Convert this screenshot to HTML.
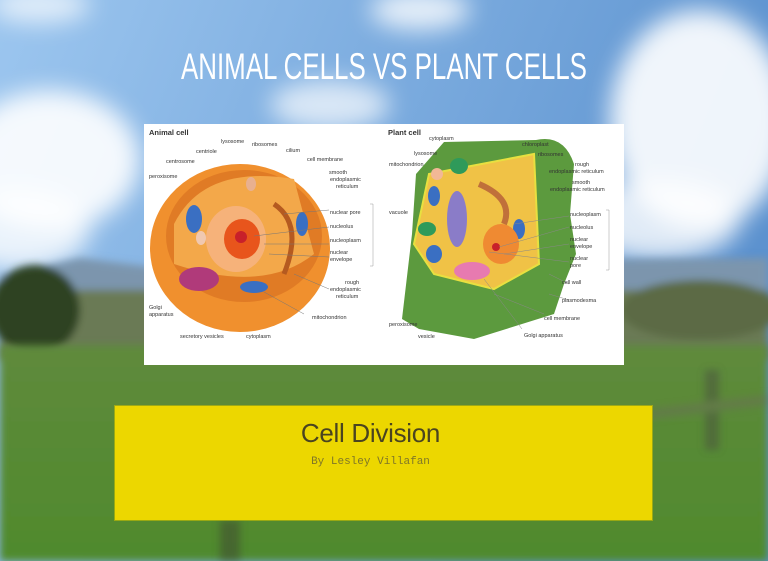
<!DOCTYPE html>
<html><head><meta charset="utf-8"><style>
html,body{margin:0;padding:0;width:768px;height:561px;overflow:hidden;}
body{position:relative;font-family:"Liberation Sans",sans-serif;}
.bg{position:absolute;left:0;top:0;}
.title{position:absolute;left:0;width:768px;top:46px;text-align:center;color:#fff;font-family:"Liberation Sans",sans-serif;font-weight:normal;font-size:37px;}
.title span{display:inline-block;transform:scaleX(0.7);}
.pic{position:absolute;left:144px;top:124px;width:480px;height:241px;background:#fff;}
.box{position:absolute;left:115px;top:406px;width:537px;height:114px;background:#ecd700;box-shadow:0 0 0 1px rgba(200,190,0,.6);}
.h{position:absolute;left:-13px;width:537px;top:12px;text-align:center;font-size:26px;color:#4a4420;font-family:"Liberation Sans",sans-serif;letter-spacing:-0.3px;}
.s{position:absolute;left:-13px;width:537px;top:50px;text-align:center;font-size:11px;color:#7f7628;font-family:"Liberation Mono",monospace;}
</style></head><body>
<svg class="bg" width="768" height="561">
<defs>
<linearGradient id="sky" x1="0" y1="0" x2="1" y2="0.3"><stop offset="0" stop-color="#9cc6ef"/><stop offset="1" stop-color="#5c92cf"/></linearGradient>
<linearGradient id="gr" x1="0" y1="0" x2="0" y2="1"><stop offset="0" stop-color="#5f8a3c"/><stop offset="1" stop-color="#4f8a2c"/></linearGradient>
<filter id="b" x="-20%" y="-20%" width="140%" height="140%"><feGaussianBlur stdDeviation="12"/></filter>
<filter id="b2"><feGaussianBlur stdDeviation="4"/></filter>
</defs>
<rect width="768" height="561" fill="url(#sky)"/>
<g filter="url(#b)" fill="#fff">
<ellipse cx="50" cy="160" rx="90" ry="70" opacity=".9"/>
<ellipse cx="20" cy="230" rx="70" ry="40" opacity=".8"/>
<ellipse cx="700" cy="120" rx="90" ry="110" opacity=".9"/>
<ellipse cx="660" cy="220" rx="80" ry="40" opacity=".8"/>
<ellipse cx="330" cy="105" rx="60" ry="25" opacity=".7"/>
<ellipse cx="420" cy="10" rx="50" ry="20" opacity=".8"/>
<ellipse cx="40" cy="5" rx="50" ry="18" opacity=".7"/>
</g>
<g filter="url(#b2)">
<path d="M0 275 L80 258 L160 268 L260 262 L768 258 L768 300 L0 300Z" fill="#7c95ad"/>
<rect x="0" y="290" width="768" height="70" fill="#6b7a55"/>
<ellipse cx="35" cy="310" rx="45" ry="45" fill="#2f4223"/>
<ellipse cx="700" cy="310" rx="80" ry="30" fill="#5b6a45"/>
</g>
<rect x="0" y="345" width="768" height="216" fill="url(#gr)" filter="url(#b2)"/>
<g filter="url(#b2)" opacity=".5">
<rect x="705" y="370" width="14" height="80" fill="#4a5040"/>
<path d="M640 410 L768 395 L768 405 L640 420Z" fill="#6a6e58"/>
<rect x="220" y="520" width="20" height="41" fill="#3c4432"/>
</g>
</svg>
<div class="title"><span>ANIMAL CELLS VS PLANT CELLS</span></div>
<div class="pic">
<svg width="480" height="241" font-family="Liberation Sans,sans-serif" font-size="5.5" fill="#333">
<text x="5" y="11" font-size="7.5" font-weight="bold">Animal cell</text>
<text x="244" y="11" font-size="7.5" font-weight="bold">Plant cell</text>
<ellipse cx="96" cy="124" rx="90" ry="84" fill="#f0902e"/>
<ellipse cx="100" cy="112" rx="78" ry="66" fill="#e07b25"/>
<path d="M30 100 Q60 40 150 55 L170 130 Q120 170 30 140Z" fill="#f3a84a"/>
<ellipse cx="92" cy="115" rx="30" ry="33" fill="#f6b27a"/>
<ellipse cx="98" cy="115" rx="18" ry="20" fill="#e8551c"/>
<circle cx="97" cy="113" r="6" fill="#c8202a"/>
<ellipse cx="50" cy="95" rx="8" ry="14" fill="#3a6fc2"/>
<ellipse cx="158" cy="100" rx="6" ry="12" fill="#3a6fc2"/>
<ellipse cx="110" cy="163" rx="14" ry="6" fill="#3a6fc2"/>
<ellipse cx="55" cy="155" rx="20" ry="12" fill="#b03a7a"/>
<ellipse cx="57" cy="114" rx="5" ry="7" fill="#f0c8b0"/>
<ellipse cx="107" cy="60" rx="5" ry="7" fill="#e8b090"/>
<path d="M130 80 Q160 100 140 150" stroke="#b55a20" stroke-width="5" fill="none"/>
<g stroke="#777" stroke-width=".5"><line x1="140" y1="90" x2="185" y2="86"/><line x1="110" y1="112" x2="185" y2="103"/><line x1="120" y1="120" x2="185" y2="120"/><line x1="125" y1="130" x2="185" y2="133"/><line x1="150" y1="150" x2="185" y2="165"/><line x1="120" y1="168" x2="160" y2="190"/></g>
<text x="186" y="90">nuclear pore</text><text x="186" y="104">nucleolus</text><text x="186" y="118">nucleoplasm</text><text x="186" y="130">nuclear</text><text x="186" y="137">envelope</text>
<text x="201" y="160">rough</text><text x="186" y="167">endoplasmic</text><text x="192" y="174">reticulum</text>
<text x="185" y="50">smooth</text><text x="186" y="57">endoplasmic</text><text x="192" y="64">reticulum</text>
<text x="163" y="37">cell membrane</text><text x="142" y="28">cilium</text><text x="108" y="22">ribosomes</text><text x="77" y="19">lysosome</text><text x="52" y="29">centriole</text><text x="22" y="39">centrosome</text><text x="5" y="54">peroxisome</text>
<text x="5" y="185">Golgi</text><text x="5" y="192">apparatus</text><text x="168" y="195">mitochondrion</text><text x="36" y="214">secretory vesicles</text><text x="102" y="214">cytoplasm</text>
<path d="M392 16 Q420 10 430 40 L426 90 L432 130 L420 160 L410 190 L330 215 L275 205 L258 195 L268 110 L272 50 L300 18Z" fill="#5c9a3e"/>
<path d="M285 50 L390 30 L395 140 L350 165 L290 150 L270 120Z" fill="#f0c246" stroke="#e8e040" stroke-width="2"/>
<ellipse cx="313" cy="95" rx="10" ry="28" fill="#8a7cc8"/>
<ellipse cx="315" cy="42" rx="9" ry="8" fill="#2f9a5a"/>
<ellipse cx="283" cy="105" rx="9" ry="7" fill="#2f9a5a"/>
<ellipse cx="290" cy="72" rx="6" ry="10" fill="#3a6fc2"/>
<ellipse cx="290" cy="130" rx="8" ry="9" fill="#3a6fc2"/>
<ellipse cx="375" cy="105" rx="6" ry="10" fill="#3a6fc2"/>
<ellipse cx="357" cy="120" rx="18" ry="20" fill="#ef8a32"/>
<circle cx="352" cy="123" r="4" fill="#c8202a"/>
<ellipse cx="328" cy="147" rx="18" ry="9" fill="#e77ab0"/>
<ellipse cx="293" cy="50" rx="6" ry="6" fill="#f2b896"/>
<path d="M335 60 Q370 75 360 100" stroke="#c0703a" stroke-width="6" fill="none"/>
<g stroke="#888" stroke-width=".5"><line x1="370" y1="100" x2="425" y2="92"/><line x1="355" y1="123" x2="425" y2="103"/><line x1="360" y1="130" x2="425" y2="120"/><line x1="345" y1="128" x2="425" y2="138"/><line x1="405" y1="150" x2="425" y2="160"/><line x1="405" y1="170" x2="425" y2="176"/><line x1="350" y1="170" x2="400" y2="190"/><line x1="340" y1="155" x2="378" y2="205"/></g>
<text x="285" y="16">cytoplasm</text><text x="378" y="22">chloroplast</text><text x="394" y="32">ribosomes</text><text x="431" y="42">rough</text><text x="405" y="49">endoplasmic reticulum</text><text x="428" y="60">smooth</text><text x="406" y="67">endoplasmic reticulum</text>
<text x="270" y="31">lysosome</text><text x="245" y="42">mitochondrion</text><text x="245" y="90">vacuole</text>
<text x="426" y="92">nucleoplasm</text><text x="426" y="105">nucleolus</text><text x="426" y="117">nuclear</text><text x="426" y="124">envelope</text><text x="426" y="136">nuclear</text><text x="426" y="143">pore</text>
<text x="418" y="160">cell wall</text><text x="418" y="178">plasmodesma</text><text x="400" y="196">cell membrane</text><text x="380" y="213">Golgi apparatus</text><text x="245" y="202">peroxisome</text><text x="274" y="214">vesicle</text>
<path d="M226 80 h3 v62 h-3 M462 86 h3 v60 h-3" stroke="#999" fill="none" stroke-width=".5"/>
</svg>
</div>
<div class="box"><div class="h">Cell Division</div><div class="s">By Lesley Villafan</div></div>
</body></html>
